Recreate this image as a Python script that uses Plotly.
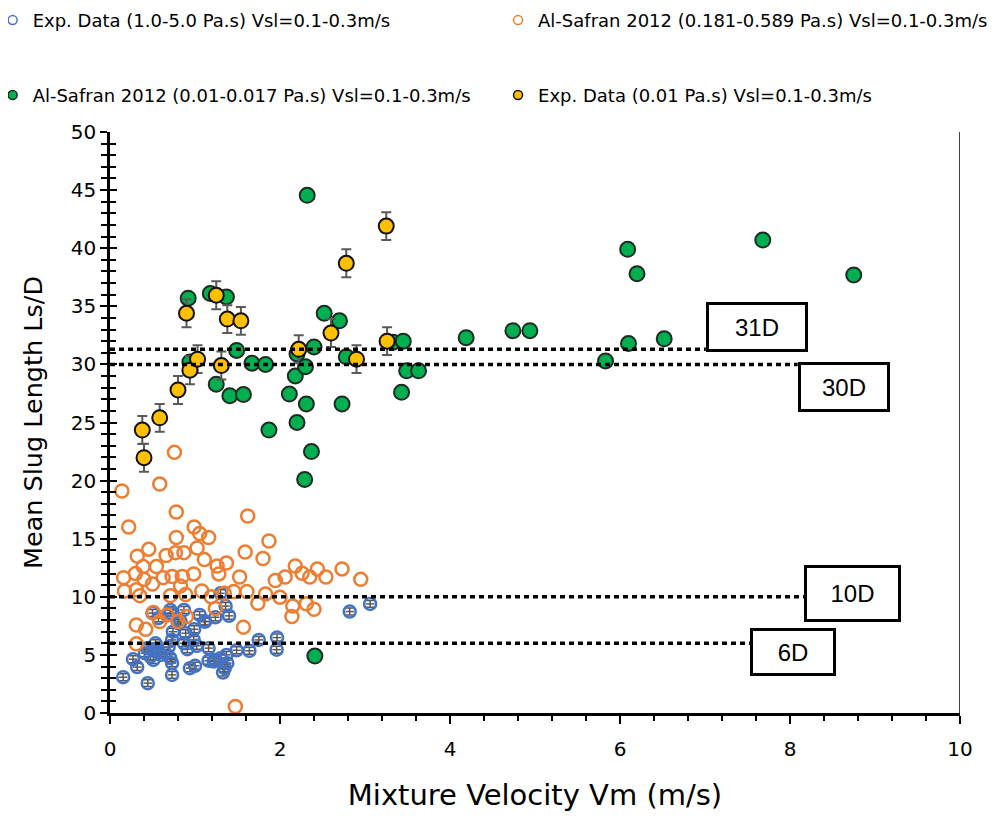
import plotly.graph_objects as go

# ---------------- data ----------------
# Exp. Data (1.0-5.0 Pa.s)
blue_x = [0.155, 0.444, 0.27, 0.32, 0.73, 0.73, 0.94, 1.0, 1.16, 1.24, 1.30, 1.33, 1.35, 1.38, 1.37,
          1.49, 1.64, 1.75, 1.965, 1.96, 1.16, 0.476, 0.515, 0.535, 0.65, 0.71, 0.69, 0.73, 0.87, 0.91,
          1.02, 0.985, 0.89, 0.99, 0.74, 0.83, 0.57, 0.71, 0.71, 0.87, 0.80, 1.055, 1.12, 1.24, 1.40,
          1.36, 1.30, 0.50, 0.44, 0.41, 0.51, 1.22, 2.82, 3.06, 1.11, 0.60, 0.55]
blue_y = [3.08, 2.57, 4.63, 3.95, 3.28, 4.29, 3.86, 4.06, 4.5, 4.57, 4.72, 3.48, 3.86, 4.29, 5.0,
          5.4, 5.35, 6.29, 6.49, 5.45, 5.58, 4.86, 5.49, 6.0, 5.15, 4.72, 5.67, 6.29, 6.0, 5.49,
          5.78, 6.29, 6.87, 7.21, 7.0, 7.87, 8.16, 8.59, 8.87, 8.87, 7.73, 8.44, 7.87, 8.24, 8.36,
          9.2, 10.3, 8.6, 5.58, 5.15, 4.57, 4.43, 8.73, 9.39, 7.87, 5.0, 5.3]

# Al-Safran 2012 (0.181-0.589 Pa.s)
orange_x = [0.758, 0.14, 0.585, 0.78, 1.62, 0.22, 0.99, 1.055, 1.16, 0.78, 1.87, 0.456, 1.025, 0.77,
            0.87, 0.66, 0.32, 1.59, 1.80, 1.11, 0.39, 0.546, 1.26, 1.37, 2.18, 0.16, 0.30, 0.40, 0.625,
            0.73, 0.85, 0.985, 0.50, 0.83, 1.28, 1.525, 1.945, 2.06, 2.26, 2.35, 2.44, 2.54, 2.73,
            2.95, 0.17, 0.31, 0.35, 0.71, 0.89, 1.08, 1.19, 1.345, 1.455, 1.61, 1.83, 2.0, 1.74,
            2.15, 2.31, 2.40, 2.14, 1.24, 0.51, 0.67, 0.585, 0.90, 0.80, 0.31, 0.42, 1.57, 0.31, 1.475]
orange_y = [22.43, 19.1, 19.7, 17.3, 16.95, 16.0, 16.0, 15.45, 15.1, 15.1, 14.8, 14.1, 14.2, 13.8,
            13.8, 13.55, 13.5, 13.85, 13.3, 13.2, 12.6, 12.6, 12.65, 12.9, 12.65, 11.65, 12.0, 11.5, 11.65,
            11.75, 11.75, 11.97, 11.1, 10.94, 11.97, 11.7, 11.4, 11.7, 12.03, 11.7, 12.4, 11.7, 12.4,
            11.5, 10.5, 10.6, 10.1, 10.1, 10.2, 10.5, 10.0, 10.3, 10.45, 10.45, 10.25, 9.97, 9.45,
            9.2, 9.4, 8.93, 8.3, 9.0, 8.64, 8.44, 7.87, 8.3, 7.87, 7.58, 7.2, 7.39, 5.95, 0.56]

# Al-Safran 2012 (0.01-0.017 Pa.s)
green_x = [0.92, 1.18, 1.37, 0.94, 1.25, 1.41, 1.49, 1.57, 1.67, 1.83, 1.87, 2.11, 2.18, 2.2, 2.2,
           2.29, 2.30, 2.31, 2.32, 2.37, 2.40, 2.41, 2.52, 2.70, 2.73, 2.78, 3.33, 3.45, 3.43, 3.49,
           3.63, 4.19, 4.74, 4.94, 5.83, 6.09, 6.1, 6.2, 6.52, 7.38, 7.68, 8.75]
green_y = [35.7, 36.1, 35.8, 30.2, 28.3, 27.3, 31.2, 27.4, 30.1, 30.0, 24.35, 27.45, 29.0, 30.9, 25.0,
           20.1, 29.8, 26.6, 44.55, 22.5, 31.5, 4.9, 34.4, 33.75, 26.6, 30.65, 31.9, 32.0, 27.6, 29.45,
           29.45, 32.3, 32.9, 32.9, 30.3, 39.9, 31.8, 37.8, 32.2, 34.5, 40.7, 37.7]

# Exp. Data (0.01 Pa.s)
yellow_x = [0.38, 0.40, 0.585, 0.80, 0.90, 0.94, 1.03, 1.25, 1.31, 1.38, 1.54, 2.22, 2.60, 2.78,
            2.90, 3.25, 3.26]
yellow_y = [24.35, 21.97, 25.4, 27.8, 34.4, 29.5, 30.45, 35.95, 29.9, 33.9, 33.75, 31.3, 32.7, 38.7,
            30.45, 41.9, 32.0]
yellow_err = 1.2
blue_err = 0.3

# reference lines (Ls/D levels), their end on the x axis, and the labels
ref_levels = [31.3, 30.0, 10.0, 6.0]
ref_end_x = [7.01, 8.09, 8.17, 7.54]
ref_labels = ["31D", "30D", "10D", "6D"]
label_x = [7.61, 8.63, 8.74, 8.04]
label_y = [33.2, 28.05, 10.29, 5.26]
label_w = [96, 86, 91, 80]
label_h = [44, 44, 51, 42]

names = ["Exp. Data (1.0-5.0 Pa.s) Vsl=0.1-0.3m/s",
         "Al-Safran 2012 (0.181-0.589 Pa.s) Vsl=0.1-0.3m/s",
         "Al-Safran 2012 (0.01-0.017 Pa.s) Vsl=0.1-0.3m/s",
         "Exp. Data (0.01 Pa.s) Vsl=0.1-0.3m/s"]

BLUE, ORANGE, GREEN, YELLOW = "#4472C4", "#ED7D31", "#00B050", "#FFC000"
GREY = "#595959"
FONT = "DejaVu Sans"

fig = go.Figure()

fig.add_trace(go.Scatter(
    x=blue_x, y=blue_y, mode="markers", showlegend=False,
    marker=dict(symbol="circle-open", size=12, color=BLUE, line=dict(width=2.5)),
    error_y=dict(type="constant", value=blue_err, color=GREY, thickness=1.5, width=4),
    error_x=dict(type="constant", value=0.05, color=GREY, thickness=1.5, width=0)))
fig.add_trace(go.Scatter(
    x=orange_x, y=orange_y, mode="markers", showlegend=False,
    marker=dict(symbol="circle-open", size=13, color=ORANGE, line=dict(width=2.5))))
fig.add_trace(go.Scatter(
    x=green_x, y=green_y, mode="markers", showlegend=False,
    marker=dict(symbol="circle", size=15, color=GREEN, line=dict(width=2, color="#1E2A22"))))
fig.add_trace(go.Scatter(
    x=yellow_x, y=yellow_y, mode="markers", showlegend=False,
    marker=dict(symbol="circle", size=15, color=YELLOW, line=dict(width=2, color="#111111")),
    error_y=dict(type="constant", value=yellow_err, color=GREY, thickness=2, width=5)))

# legend proxies (one legend per entry so the positions match)
legend_specs = [
    ("legend", dict(symbol="circle-open", size=9, color=BLUE, line=dict(width=1.5))),
    ("legend2", dict(symbol="circle-open", size=9, color=ORANGE, line=dict(width=1.5))),
    ("legend3", dict(symbol="circle", size=9, color=GREEN, line=dict(width=1.5, color="#1E2A22"))),
    ("legend4", dict(symbol="circle", size=9, color=YELLOW, line=dict(width=1.5, color="#111111"))),
]
for nm, (lg, mk) in zip(names, legend_specs):
    fig.add_trace(go.Scatter(x=[None], y=[None], mode="markers", name=nm, legend=lg, marker=mk))

# The page has an 8px body margin: figure coordinates = page coordinates - 8
OFF = 8
FIG_W, FIG_H = 1003 - OFF, 816 - OFF
# plot area in page pixels
PX0, PX1, PY1, PY0 = 109.5, 960.5, 131.7, 713.2
L, T = PX0 - OFF, PY1 - OFF
R, B = FIG_W - (PX1 - OFF), FIG_H - (PY0 - OFF)
W = PX1 - PX0
H = PY0 - PY1


def px_to_paper_x(p):
    return (p - PX0) / W


def px_to_paper_y(p):
    return (PY0 - p) / H


leg_font = dict(family=FONT, size=18, color="black")
leg_pos = [(-8, 20), (498, 20), (-8, 95), (498, 95)]
leg_layout = {}
for key, (lx, ly) in zip(["legend", "legend2", "legend3", "legend4"], leg_pos):
    leg_layout[key] = dict(x=px_to_paper_x(lx), y=px_to_paper_y(ly), xanchor="left", yanchor="middle",
                           font=leg_font, bgcolor="rgba(0,0,0,0)", borderwidth=0,
                           orientation="h", itemsizing="trace")

shapes = []
for lvl, xe in zip(ref_levels, ref_end_x):
    shapes.append(dict(type="line", xref="x", yref="y", x0=0, x1=xe, y0=lvl, y1=lvl,
                       line=dict(color="black", width=3.5, dash="5px,4px"), layer="above"))
# right frame line
shapes.append(dict(type="line", xref="x", yref="paper", x0=10, x1=10, y0=0, y1=1,
                   line=dict(color="black", width=1.5)))

annotations = []
for lab, ax_, ay_, w_, h_ in zip(ref_labels, label_x, label_y, label_w, label_h):
    annotations.append(dict(x=ax_, y=ay_, xref="x", yref="y", text=lab, showarrow=False,
                            font=dict(family="Liberation Sans", size=24, color="black"),
                            bgcolor="white", bordercolor="black", borderwidth=3, borderpad=0,
                            width=w_, height=h_, align="center", valign="middle"))

fig.update_layout(
    width=FIG_W, height=FIG_H,
    margin=dict(l=L, r=R, t=T, b=B, pad=0, autoexpand=False),
    paper_bgcolor="white", plot_bgcolor="white",
    font=dict(family=FONT, color="black"),
    shapes=shapes, annotations=annotations,
    **leg_layout,
    xaxis=dict(range=[0, 10], dtick=2, tick0=0, showgrid=False, zeroline=False,
               showline=True, linecolor="black", linewidth=2.5,
               ticks="outside", ticklen=8, tickwidth=2, tickcolor="black",
               minor=dict(dtick=0.4, ticks="outside", ticklen=5, tickwidth=1.5, tickcolor="black"),
               tickfont=dict(family=FONT, size=20, color="black"), ticklabelstandoff=8,
               title=dict(text="Mixture Velocity Vm (m/s)", font=dict(family=FONT, size=29, color="black"),
                          standoff=25)),
    yaxis=dict(range=[0, 50], dtick=5, tick0=0, showgrid=False, zeroline=False,
               showline=True, linecolor="black", linewidth=2.5,
               ticks="outside", ticklen=7, tickwidth=2, tickcolor="black",
               minor=dict(dtick=1, ticks="outside", ticklen=6, tickwidth=1.5, tickcolor="black"),
               tickfont=dict(family=FONT, size=20, color="black"),
               title=dict(text="Mean Slug Length Ls/D", font=dict(family=FONT, size=25.5, color="black"),
                          standoff=21)),
    yaxis2=dict(range=[0, 50], overlaying="y", matches="y", side="left", dtick=5, tick0=0,
                showgrid=False, zeroline=False, showline=False, showticklabels=False,
                ticks="inside", ticklen=7, tickwidth=2, tickcolor="black",
                minor=dict(dtick=1, ticks="inside", ticklen=6, tickwidth=1.5, tickcolor="black")),
)
# an invisible trace to make yaxis2 render
fig.add_trace(go.Scatter(x=[None], y=[None], yaxis="y2", showlegend=False, hoverinfo="skip"))

fig.write_html("out.html")
